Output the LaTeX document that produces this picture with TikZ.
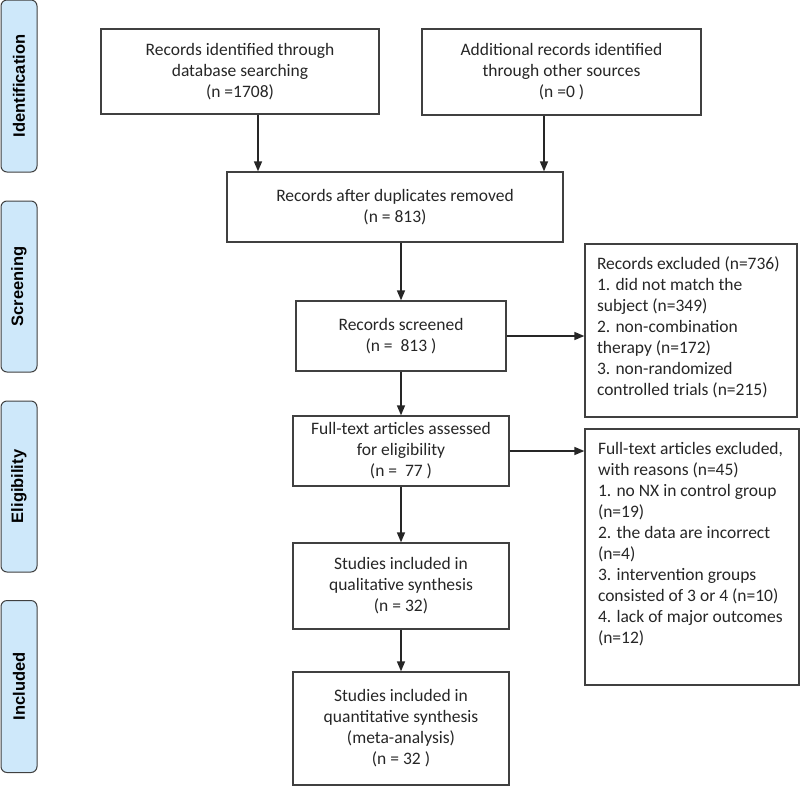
\documentclass[tikz,border=0pt]{standalone}
\usepackage{fontspec}
\setmainfont{Carlito}
\newfontfamily\phasefont{Liberation Sans}
\usetikzlibrary{arrows.meta}
\definecolor{phasefill}{RGB}{206,232,250}
\definecolor{edgegray}{RGB}{64,64,64}

\begin{document}
\begin{tikzpicture}[x=1pt,y=-1pt,
	box/.style={draw=edgegray,line width=1.3pt,align=center,inner sep=0pt,
		font=\fontsize{17.5}{21}\selectfont,text=black!85},
	sidebox/.style={draw=edgegray,line width=1.3pt,inner sep=0pt,
		font=\fontsize{17.5}{21}\selectfont,text=black!85},
	phase/.style={draw=edgegray,fill=phasefill,rounded corners=6pt,line width=1pt,
		inner sep=0pt,minimum height=36pt,rotate=90,
		font=\phasefont\bfseries\fontsize{16.5}{18}\selectfont},
	flow/.style={draw=black!85,line width=1.5pt,-{Triangle[length=10pt,width=8pt]}}]
	\useasboundingbox (0,0) rectangle (800,787);
	% phases
	\node[phase,minimum width=172pt] (identification) at (19,86) {Identification};
	\node[phase,minimum width=171pt] (screening) at (19,286.5) {Screening};
	\node[phase,minimum width=171pt] (eligibility) at (19,486.5) {Eligibility};
	\node[phase,minimum width=172pt] (included) at (19,686.5) {Included};
	% main column
	\node[box,minimum width=278pt,minimum height=85pt] (database) at (240,71.5)
		{Records identified through\\database searching\\(n =1708)};
	\node[box,minimum width=279pt,minimum height=86pt] (other) at (561.5,72)
		{Additional records identified\\through other sources\\(n =0 )};
	\node[box,minimum width=336pt,minimum height=70pt] (dedup) at (395,207)
		{Records after duplicates removed\\(n = 813)};
	\node[box,minimum width=210pt,minimum height=70pt] (screened) at (401,336)
		{Records screened\\(n =~ 813 )};
	\node[box,minimum width=216pt,minimum height=70pt] (fulltext) at (401,451)
		{Full-text articles assessed\\for eligibility\\(n =~ 77 )};
	\node[box,minimum width=216pt,minimum height=86pt] (qualitative) at (401,586)
		{Studies included in\\qualitative synthesis\\(n = 32)};
	\node[box,minimum width=216pt,minimum height=113pt] (quantitative) at (401,728.5)
		{Studies included in\\quantitative synthesis\\(meta-analysis)\\(n = 32 )};
	% exclusions
	\node[sidebox,minimum width=212pt,minimum height=173pt] (excluded) at (691,330.5)
		{\parbox[c][147pt][t]{188pt}{\raggedright
		Records excluded (n=736)\\
		1. did not match the\\
		subject (n=349)\\
		2. non-combination\\
		therapy (n=172)\\
		3. non-randomized\\
		controlled trials (n=215)}};
	\node[sidebox,minimum width=214pt,minimum height=256pt] (ftexcluded) at (692,557)
		{\parbox[c][230pt][t]{188pt}{\raggedright
		Full-text articles excluded,\\
		with reasons (n=45)\\
		1. no NX in control group\\
		(n=19)\\
		2. the data are incorrect\\
		(n=4)\\
		3. intervention groups\\
		consisted of 3 or 4 (n=10)\\
		4. lack of major outcomes\\
		(n=12)}};
	% arrows
	\draw[flow] ([xshift=18pt]database.south) -- ([xshift=18pt]database.south |- dedup.north);
	\draw[flow] ([xshift=-17.5pt]other.south) -- ([xshift=-17.5pt]other.south |- dedup.north);
	\draw[flow] (screened.north |- dedup.south) -- (screened.north);
	\draw[flow] (screened.south) -- (fulltext.north);
	\draw[flow] (fulltext.south) -- (qualitative.north);
	\draw[flow] (qualitative.south) -- (quantitative.north);
	\draw[flow] (screened.east) -- (screened.east -| excluded.west);
	\draw[flow] (fulltext.east) -- (fulltext.east -| ftexcluded.west);
\end{tikzpicture}
\end{document}
